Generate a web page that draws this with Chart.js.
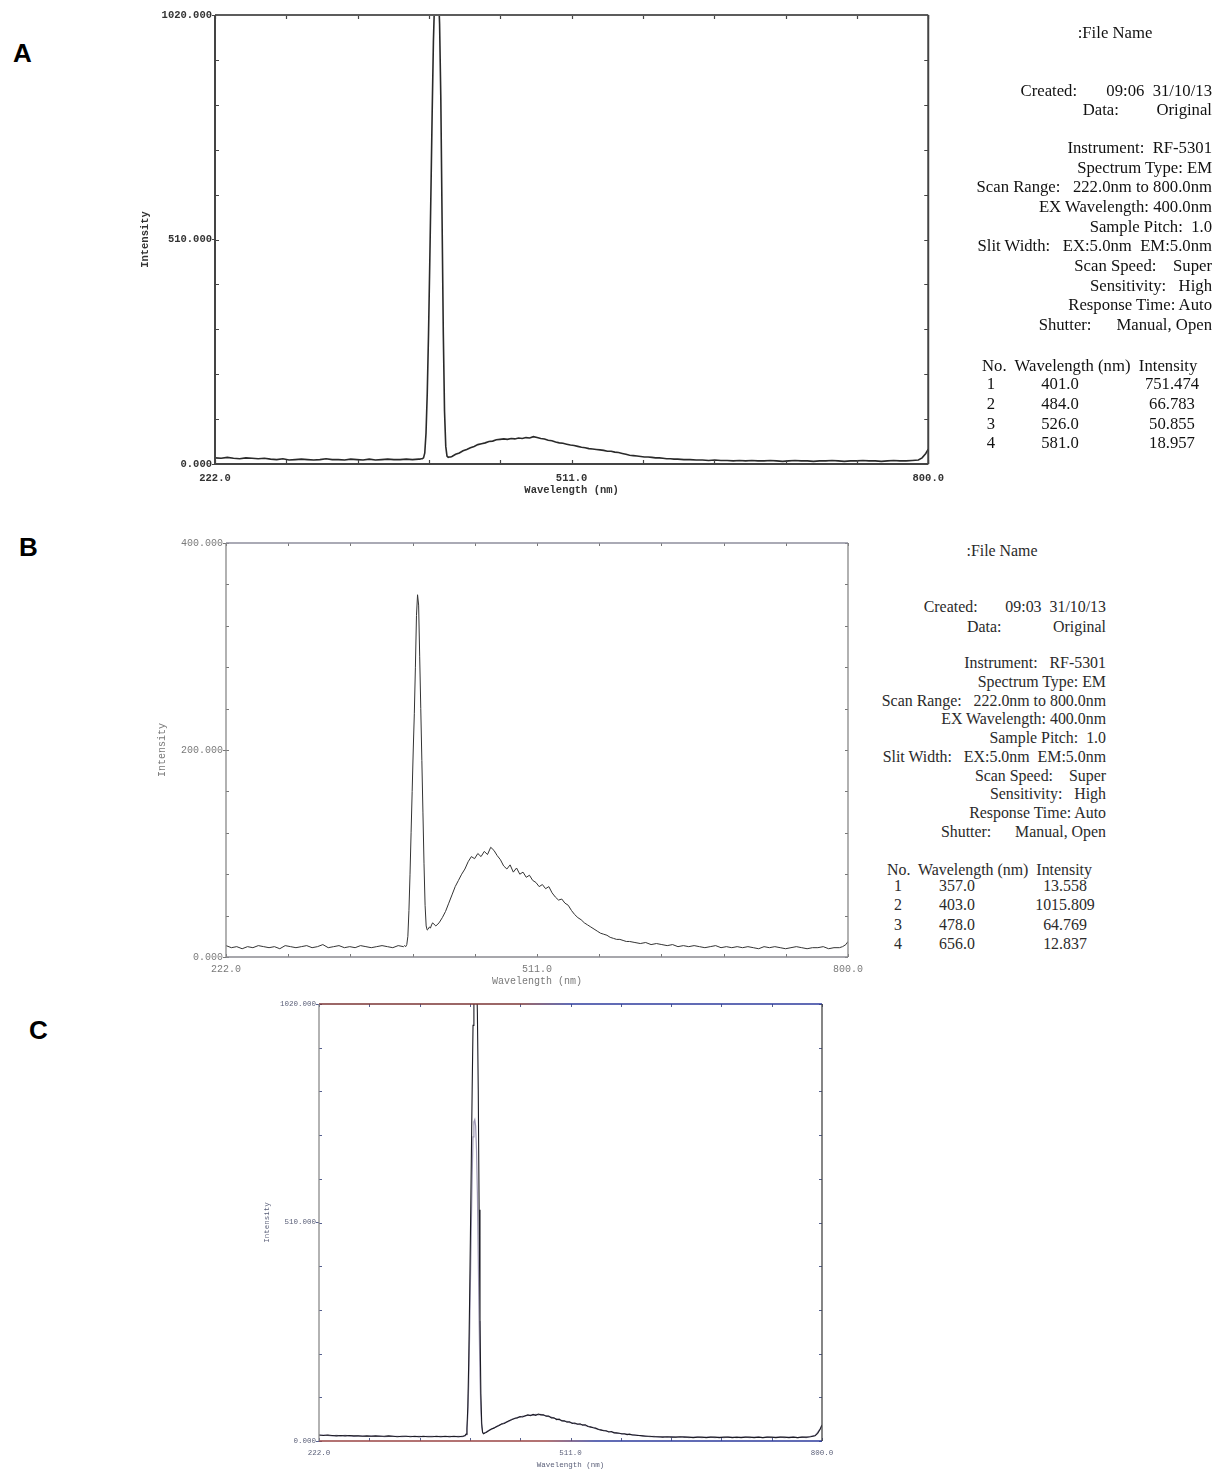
<!DOCTYPE html>
<html lang="en">
  <head>
    <meta charset="UTF-8" />
    <title>Emission spectra A, B, C</title>
    <script src="https://cdn.jsdelivr.net/npm/chart.js"></script>
    <style>
      * {
        margin: 0;
        padding: 0;
        box-sizing: border-box;
      }

      body {
        position: relative;
        width: 1213px;
        height: 1470px;
        overflow: hidden;
        background: #fff;
        color: #1c1c1c;
        font-family: "Liberation Serif", "Times New Roman", serif;
      }

      canvas {
        position: absolute;
      }

      .letter {
        position: absolute;
        font-family: "Liberation Sans", Arial, sans-serif;
        font-weight: bold;
        font-size: 26px;
        line-height: 1;
        color: #000;
      }

      /* instrument report text */
      .info {
        position: absolute;
        top: 0;
        left: 0;
        white-space: pre;
        line-height: 18px;
      }
      .info div {
        position: absolute;
        white-space: pre;
      }
      .info .r {
        right: 0;
      }
      .info .c {
        transform: translateX(-50%);
      }
      #infoA {
        width: 1212px;
        font-size: 16.7px;
        color: #111;
      }
      #infoB {
        width: 1106px;
        font-size: 15.9px;
        color: #2a2a2a;
      }
    </style>
  </head>
  <body>
    <div class="letter" style="left: 13px; top: 40px">A</div>
    <div class="letter" style="left: 19px; top: 534px">B</div>
    <div class="letter" style="left: 29px; top: 1017px">C</div>

    <canvas id="chartA" width="840" height="510" style="left: 112px; top: 0px; width: 840px; height: 510px"></canvas>
    <canvas id="chartB" width="730" height="460" style="left: 140px; top: 530px; width: 730px; height: 460px"></canvas>
    <canvas id="chartC" width="600" height="480" style="left: 250px; top: 990px; width: 600px; height: 480px"></canvas>

    <!-- report text, panel A -->
    <div class="info" id="infoA">
      <div class="c" style="left: 1115px; top: 24px">:File Name</div>
      <div class="r" style="top: 82px">Created:       09:06  31/10/13</div>
      <div class="r" style="top: 101px">Data:         Original</div>
      <div class="r" style="top: 139px">Instrument:  RF-5301</div>
      <div class="r" style="top: 159px">Spectrum Type: EM</div>
      <div class="r" style="top: 178px">Scan Range:   222.0nm to 800.0nm</div>
      <div class="r" style="top: 198px">EX Wavelength: 400.0nm</div>
      <div class="r" style="top: 218px">Sample Pitch:  1.0</div>
      <div class="r" style="top: 237px">Slit Width:   EX:5.0nm  EM:5.0nm</div>
      <div class="r" style="top: 257px">Scan Speed:    Super</div>
      <div class="r" style="top: 277px">Sensitivity:   High</div>
      <div class="r" style="top: 296px">Response Time: Auto</div>
      <div class="r" style="top: 316px">Shutter:      Manual, Open</div>
      <div style="left: 982px; top: 357px">No.  Wavelength (nm)  Intensity</div>
      <div class="c" style="left: 991px; top: 375px">1</div>
      <div class="c" style="left: 1060px; top: 375px">401.0</div>
      <div class="c" style="left: 1172px; top: 375px">751.474</div>
      <div class="c" style="left: 991px; top: 395px">2</div>
      <div class="c" style="left: 1060px; top: 395px">484.0</div>
      <div class="c" style="left: 1172px; top: 395px">66.783</div>
      <div class="c" style="left: 991px; top: 415px">3</div>
      <div class="c" style="left: 1060px; top: 415px">526.0</div>
      <div class="c" style="left: 1172px; top: 415px">50.855</div>
      <div class="c" style="left: 991px; top: 434px">4</div>
      <div class="c" style="left: 1060px; top: 434px">581.0</div>
      <div class="c" style="left: 1172px; top: 434px">18.957</div>
    </div>

    <!-- report text, panel B -->
    <div class="info" id="infoB">
      <div class="c" style="left: 1002px; top: 542px">:File Name</div>
      <div class="r" style="top: 598px">Created:       09:03  31/10/13</div>
      <div class="r" style="top: 618px">Data:             Original</div>
      <div class="r" style="top: 654px">Instrument:   RF-5301</div>
      <div class="r" style="top: 673px">Spectrum Type: EM</div>
      <div class="r" style="top: 692px">Scan Range:   222.0nm to 800.0nm</div>
      <div class="r" style="top: 710px">EX Wavelength: 400.0nm</div>
      <div class="r" style="top: 729px">Sample Pitch:  1.0</div>
      <div class="r" style="top: 748px">Slit Width:   EX:5.0nm  EM:5.0nm</div>
      <div class="r" style="top: 767px">Scan Speed:    Super</div>
      <div class="r" style="top: 785px">Sensitivity:   High</div>
      <div class="r" style="top: 804px">Response Time: Auto</div>
      <div class="r" style="top: 823px">Shutter:      Manual, Open</div>
      <div style="left: 887px; top: 861px">No.  Wavelength (nm)  Intensity</div>
      <div class="c" style="left: 898px; top: 877px">1</div>
      <div class="c" style="left: 957px; top: 877px">357.0</div>
      <div class="c" style="left: 1065px; top: 877px">13.558</div>
      <div class="c" style="left: 898px; top: 896px">2</div>
      <div class="c" style="left: 957px; top: 896px">403.0</div>
      <div class="c" style="left: 1065px; top: 896px">1015.809</div>
      <div class="c" style="left: 898px; top: 916px">3</div>
      <div class="c" style="left: 957px; top: 916px">478.0</div>
      <div class="c" style="left: 1065px; top: 916px">64.769</div>
      <div class="c" style="left: 898px; top: 935px">4</div>
      <div class="c" style="left: 957px; top: 935px">656.0</div>
      <div class="c" style="left: 1065px; top: 935px">12.837</div>
    </div>

    <script>
      // wavelength grid (nm) shared by all traces
      const wavelengths = [
        222, 227, 232, 237, 242, 247, 252, 257, 262, 267, 272, 277, 282, 287, 292, 297, 302,
        307, 312, 317, 322, 327, 332, 337, 342, 347, 352, 357, 362, 367, 372, 377, 382, 387,
        388, 389, 390, 391, 392, 393, 394, 395, 396, 397, 398, 399, 400, 401, 402, 403, 404,
        405, 406, 407, 408, 409, 410, 411, 412, 413, 414,
        417, 420, 423, 426, 429, 432, 435, 438, 441, 444, 447, 450, 453, 456, 459, 462, 465,
        468, 471, 474, 477, 480, 483, 486, 489, 492, 495, 498, 501, 504, 507, 510, 513, 516,
        519, 522, 525, 528, 531, 534, 537, 540, 543, 546, 549, 552, 555, 558, 561, 564, 567,
        570, 573, 576, 579, 582, 585, 588, 591, 594, 597,
        602, 607, 612, 617, 622, 627, 632, 637, 642, 647, 652, 657, 662, 667, 672, 677, 682,
        687, 692, 697, 702, 707, 712, 717, 722, 727, 732, 737, 742, 747, 752, 757, 762, 767,
        772, 777, 782, 787, 792, 795, 798, 800,
      ];

      // panel A intensity (peak runs off the top of the 1020 scale)
      const intensityA = [
        14, 13, 15, 13, 12, 14, 13, 12, 13, 11, 10, 12, 9, 10, 11, 10, 9, 10, 12, 10,
        10, 9, 11, 10, 9, 11, 9, 10, 11, 10, 10, 11, 10, 11,
        11, 12, 12, 14, 25, 70, 160, 290, 450, 620, 800, 960, 1060, 1100, 1100, 1080, 1000,
        830, 560, 300, 120, 40, 18, 15, 16, 16, 17,
        22, 25, 30, 33, 37, 40, 44, 46, 48, 51, 52, 55, 56, 57, 56, 58, 57, 59, 58, 60,
        59, 62, 60, 58, 57, 54, 53, 50, 48, 47, 45, 43, 42, 40, 38, 37, 35, 34, 33, 32,
        31, 29, 29, 27, 26, 24, 22, 20, 19, 18, 17, 16, 16, 15, 14, 14, 13, 12, 12, 11, 11,
        10, 10, 9, 9, 8, 9, 8, 8, 7, 8, 7, 8, 7, 7, 8, 7, 6, 7, 8, 7,
        7, 6, 7, 7, 8, 7, 6, 7, 7, 8, 7, 7, 6, 7, 8, 7, 7, 8, 9,
        14, 24, 34,
      ];

      // panel B intensity
      const intensityB = [
        11, 9, 10, 8, 10, 9, 11, 10, 9, 10, 8, 11, 10, 9, 10, 11, 9, 10, 12, 9,
        10, 11, 9, 10, 9, 11, 10, 9, 10, 11, 10, 9, 11, 10,
        11, 10, 12, 20, 45, 80, 120, 160, 200, 235, 280, 330, 350, 340, 290, 240, 190,
        140, 90, 50, 30, 26, 27, 29, 28, 31, 33,
        30, 33, 38, 44, 52, 60, 68, 74, 80, 85, 92, 97, 95, 100, 97, 102, 99, 106, 103, 98,
        94, 88, 85, 89, 82, 86, 80, 82, 77, 79, 74, 72, 68, 70, 66, 68, 62, 58, 55, 56,
        52, 50, 45, 41, 38, 36, 33, 31, 29, 27, 25, 23, 22, 21, 19, 18, 17, 17, 16, 15, 15,
        14, 13, 14, 12, 13, 12, 11, 12, 10, 11, 10, 11, 10, 9, 10, 11, 9, 10, 9, 10,
        9, 10, 9, 8, 10, 9, 10, 9, 8, 9, 10, 9, 8, 9, 9, 10, 8, 9, 9,
        10, 12, 15,
      ];

      // panel C, two overlaid scans
      const intensityC1 = [
        14, 13, 14, 13, 12, 13, 12, 13, 12, 12, 11, 12, 11, 12, 11, 11, 12, 11, 10, 11,
        11, 10, 11, 10, 11, 10, 10, 11, 10, 11, 10, 11, 10, 11,
        11, 12, 13, 16, 30, 80, 180, 320, 480, 650, 820, 970, 1070, 1110, 1110, 1090, 1000,
        820, 540, 280, 110, 40, 20, 17, 18, 19, 20,
        24, 28, 30, 34, 36, 40, 41, 45, 48, 50, 53, 54, 57, 56, 59, 61, 59, 62, 60, 63,
        61, 61, 58, 58, 54, 54, 50, 51, 47, 47, 44, 45, 41, 42, 39, 40, 37, 38, 34, 33,
        31, 30, 27, 26, 24, 24, 21, 22, 19, 19, 18, 17, 17, 15, 16, 14, 14, 13, 13, 12, 11,
        11, 10, 10, 9, 10, 9, 9, 10, 9, 9, 8, 9, 9, 8, 9, 9, 8, 9, 9, 8,
        9, 8, 9, 9, 8, 9, 8, 9, 9, 8, 9, 9, 8, 9, 8, 9, 9, 10, 12,
        18, 28, 37,
      ];
      const intensityC2 = [
        13, 14, 13, 12, 13, 12, 13, 12, 11, 12, 12, 11, 12, 11, 12, 10, 11, 11, 11, 10,
        11, 11, 10, 11, 10, 11, 11, 10, 11, 10, 11, 10, 11, 10,
        11, 12, 12, 15, 25, 60, 130, 240, 370, 500, 620, 710, 745, 750, 735, 680, 580,
        430, 280, 150, 70, 32, 20, 18, 18, 20, 21,
        25, 27, 31, 33, 37, 39, 43, 44, 47, 51, 52, 55, 55, 58, 58, 60, 61, 60, 62, 61,
        62, 60, 59, 57, 56, 53, 52, 49, 48, 46, 46, 43, 43, 40, 40, 38, 38, 36, 35, 32,
        32, 29, 28, 25, 25, 23, 22, 21, 20, 18, 18, 16, 16, 16, 15, 15, 13, 14, 12, 12, 12,
        10, 11, 9, 10, 9, 10, 9, 9, 10, 8, 9, 9, 8, 9, 9, 8, 9, 8, 9, 9,
        8, 9, 9, 8, 9, 9, 8, 9, 8, 9, 9, 8, 9, 9, 8, 9, 8, 11, 13,
        20, 29, 38,
      ];

      // axis ticks and the few that carry a label
      const xTicks = [222, 279.8, 337.6, 395.4, 453.2, 511, 568.8, 626.6, 684.4, 742.2, 800];
      const xTickLabels = { 222: "222.0", 511: "511.0", 800: "800.0" };
      const yTicks1020 = [0, 102, 204, 306, 408, 510, 612, 714, 816, 918, 1020];
      const yTickLabels1020 = { 0: "0.000", 510: "510.000", 1020: "1020.000" };
      const yTicks400 = [0, 40, 80, 120, 160, 200, 240, 280, 320, 360, 400];
      const yTickLabels400 = { 0: "0.000", 200: "200.000", 400: "400.000" };

      // frame plus inward tick marks, positioned by the chart's scales
      const framePlugin = {
        id: "frame",
        afterDatasetsDraw(chart, args, o) {
          const { ctx, chartArea: a } = chart;
          const xs = chart.scales.x;
          const ys = chart.scales.y;
          ctx.save();
          ctx.lineWidth = o.tickWidth;
          ctx.strokeStyle = o.tickColor;
          ctx.beginPath();
          xs.ticks.forEach((t) => {
            const p = Math.round(xs.getPixelForValue(t.value)) + 0.5;
            ctx.moveTo(p, a.bottom);
            ctx.lineTo(p, a.bottom - o.tick);
            ctx.moveTo(p, a.top);
            ctx.lineTo(p, a.top + o.tick);
          });
          ys.ticks.forEach((t) => {
            const p = Math.round(ys.getPixelForValue(t.value)) + 0.5;
            ctx.moveTo(a.left, p);
            ctx.lineTo(a.left + o.tick, p);
            ctx.moveTo(a.right, p);
            ctx.lineTo(a.right - o.tick, p);
          });
          ctx.stroke();

          const paint = (c) => {
            if (!Array.isArray(c)) return c;
            const g = ctx.createLinearGradient(a.left, 0, a.right, 0);
            c.forEach(([stop, col]) => g.addColorStop(stop, col));
            return g;
          };
          const edge = (x1, y1, x2, y2, c) => {
            ctx.strokeStyle = paint(c);
            ctx.beginPath();
            ctx.moveTo(x1, y1);
            ctx.lineTo(x2, y2);
            ctx.stroke();
          };
          ctx.lineWidth = o.width;
          edge(a.left, a.top, a.right, a.top, o.top);
          edge(a.left, a.bottom, a.right, a.bottom, o.bottom);
          edge(a.left, a.top, a.left, a.bottom, o.left);
          edge(a.right, a.top, a.right, a.bottom, o.right);
          ctx.restore();
        },
      };

      function spectrum(id, p) {
        const font = { family: "'Liberation Mono', 'DejaVu Sans Mono', monospace", size: p.fontSize, weight: p.fontWeight };
        return new Chart(document.getElementById(id), {
          type: "line",
          data: {
            datasets: p.series.map((s) => ({
              data: wavelengths.map((w, i) => ({ x: w, y: s.values[i] })),
              borderColor: s.color,
              borderWidth: s.width,
              pointRadius: 0,
              tension: 0,
              fill: false,
            })),
          },
          options: {
            responsive: false,
            animation: false,
            events: [],
            layout: { padding: { left: 0, top: p.padTop, right: p.padRight, bottom: 0 } },
            plugins: {
              legend: { display: false },
              tooltip: { enabled: false },
              frame: p.frame,
            },
            scales: {
              x: {
                type: "linear",
                min: 222,
                max: 800,
                afterBuildTicks: (scale) => {
                  scale.ticks = xTicks.map((v) => ({ value: v }));
                },
                afterFit: (scale) => {
                  scale.height = p.xHeight;
                },
                grid: { display: false, drawTicks: false },
                border: { display: false },
                ticks: {
                  autoSkip: false,
                  maxRotation: 0,
                  padding: p.xLabelPad,
                  color: p.textColor,
                  font,
                  callback: (v) => xTickLabels[v] ?? "",
                },
                title: {
                  display: true,
                  text: "Wavelength (nm)",
                  color: p.textColor,
                  font,
                  padding: { top: 0, bottom: p.xTitlePad },
                },
              },
              y: {
                min: 0,
                max: p.yMax,
                afterBuildTicks: (scale) => {
                  scale.ticks = p.yTicks.map((v) => ({ value: v }));
                },
                afterFit: (scale) => {
                  scale.width = p.yWidth;
                },
                grid: {
                  drawOnChartArea: false,
                  drawTicks: true,
                  tickLength: 3,
                  color: (c) => (c.tick && p.yLabels[c.tick.value] !== undefined ? p.frame.tickColor : "rgba(0,0,0,0)"),
                },
                border: { display: false },
                ticks: {
                  autoSkip: false,
                  padding: 0,
                  color: p.textColor,
                  font,
                  callback: (v) => p.yLabels[v] ?? "",
                },
                title: {
                  display: true,
                  text: "Intensity",
                  color: p.textColor,
                  font,
                  padding: { top: p.yTitlePad, bottom: 0 },
                },
              },
            },
          },
          plugins: [framePlugin],
        });
      }

      spectrum("chartA", {
        series: [{ values: intensityA, color: "#2a2a2a", width: 1.6 }],
        yMax: 1020,
        yTicks: yTicks1020,
        yLabels: yTickLabels1020,
        fontSize: 10.5,
        fontWeight: "bold",
        textColor: "#333",
        padTop: 15,
        padRight: 23,
        yWidth: 103,
        xHeight: 46,
        xLabelPad: 8,
        xTitlePad: 13,
        yTitlePad: 27,
        frame: { tick: 4, tickWidth: 1.2, tickColor: "#444", width: 2, top: "#5c5c5c", bottom: "#444", left: "#444", right: "#444" },
      });

      spectrum("chartB", {
        series: [{ values: intensityB, color: "#333", width: 1 }],
        yMax: 400,
        yTicks: yTicks400,
        yLabels: yTickLabels400,
        fontSize: 10,
        fontWeight: "normal",
        textColor: "#7a7a7a",
        padTop: 13,
        padRight: 22,
        yWidth: 86,
        xHeight: 33,
        xLabelPad: 6,
        xTitlePad: 3,
        yTitlePad: 16,
        frame: { tick: 3, tickWidth: 1, tickColor: "#777", width: 1.3, top: "#8e8e9c", bottom: "#8a8a90", left: "#888", right: "#888" },
      });

      spectrum("chartC", {
        series: [
          { values: intensityC1, color: "#1c1c24", width: 1.1 },
          { values: intensityC2, color: "#9d97b3", width: 1.2 },
        ],
        yMax: 1020,
        yTicks: yTicks1020,
        yLabels: yTickLabels1020,
        fontSize: 7.5,
        fontWeight: "normal",
        textColor: "#5a5f78",
        padTop: 14,
        padRight: 28,
        yWidth: 69,
        xHeight: 29,
        xLabelPad: 8,
        xTitlePad: 0,
        yTitlePad: 13,
        frame: {
          tick: 3,
          tickWidth: 1,
          tickColor: "#55608f",
          width: 1.3,
          top: [[0, "#7a3434"], [0.4, "#7a3434"], [0.5, "#2c3a9c"], [1, "#2c3a9c"]],
          bottom: [[0, "#9a4444"], [0.45, "#9a4444"], [0.55, "#2c3a9c"], [1, "#2c3a9c"]],
          left: "#8a8a8a",
          right: "#444",
        },
      });
    </script>
  </body>
</html>
